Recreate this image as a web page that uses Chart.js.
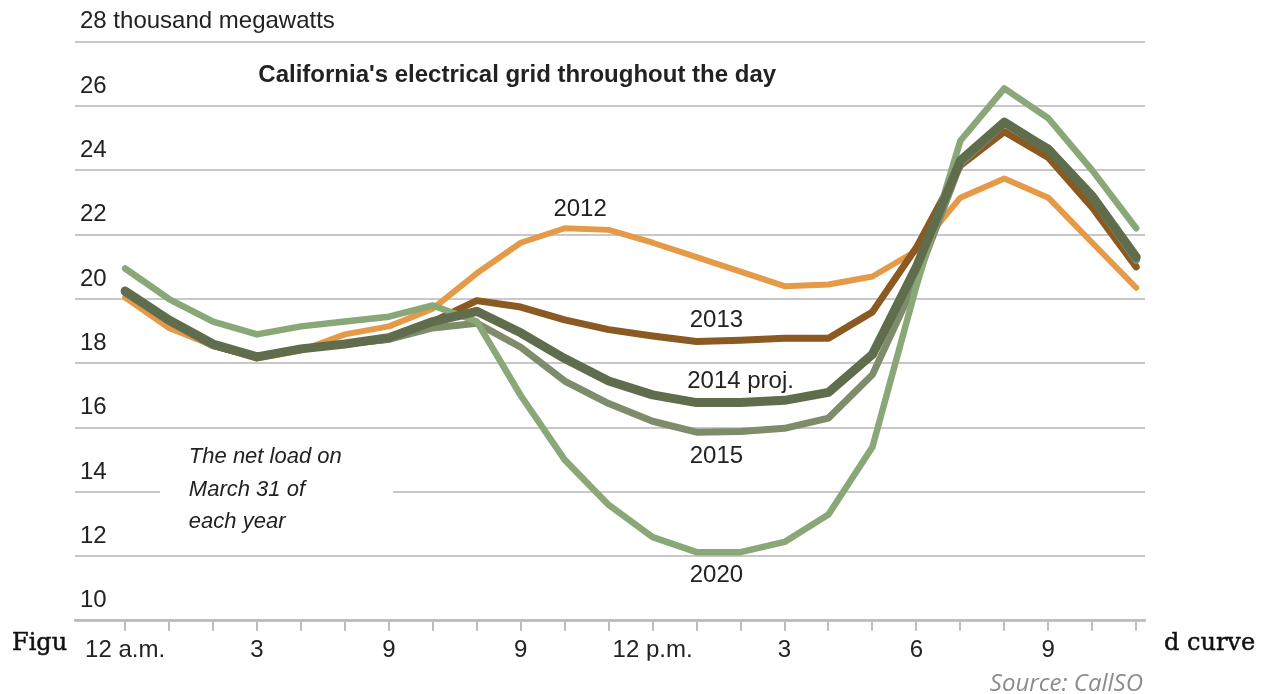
<!DOCTYPE html>
<html>
<head>
<meta charset="utf-8">
<script src="https://cdn.jsdelivr.net/npm/chart.js@4"></script>
<style>
  html, body { margin: 0; padding: 0; background: #fff; }
  #wrap { position: relative; width: 1271px; height: 694px; overflow: hidden; }
  #chart { position: absolute; left: 0; top: 0; }
  .page { position: absolute; white-space: nowrap; }
  .serif { font-family: "DejaVu Serif", serif; font-size: 24px; color: #111; -webkit-text-stroke: 0.5px #111; }
  #source { font-family: "Open Sans", sans-serif; font-style: italic; font-size: 24px; color: #8c8c8c; }
</style>
</head>
<body>
<div id="wrap">
  <canvas id="chart" width="1271" height="694"></canvas>
  <div class="page serif" style="left:12px; top:628px;">Figu</div>
  <div class="page serif" style="left:1164px; top:628px;">d curve</div>
  <div class="page" id="source" style="right:128px; top:665px;">Source: CallSO</div>
</div>
<script>
// hours of the day, 0 = midnight
const hours = [0, 1, 2, 3, 4, 5, 6, 7, 8, 9, 10, 11, 12, 13, 14, 15, 16, 17, 18, 19, 20, 21, 22, 23];
// tick labels as printed under the axis
const hourLabels = {0: '12 a.m.', 3: '3', 6: '9', 9: '9', 12: '12 p.m.', 15: '3', 18: '6', 21: '9'};

// net load, thousand megawatts
const load2012 = [20.05, 19.1, 18.55, 18.15, 18.4, 18.9, 19.15, 19.7, 20.8, 21.75, 22.2, 22.15, 21.75, 21.3, 20.85, 20.4, 20.45, 20.7, 21.5, 23.15, 23.75, 23.15, 21.75, 20.35];
const load2013 = [20.2, 19.3, 18.55, 18.2, 18.45, 18.6, 18.75, 19.3, 19.95, 19.75, 19.35, 19.05, 18.85, 18.68, 18.72, 18.78, 18.78, 19.6, 21.6, 24.15, 25.2, 24.4, 22.85, 21.0];
const load2014 = [20.25, 19.35, 18.6, 18.2, 18.45, 18.6, 18.8, 19.3, 19.62, 18.95, 18.15, 17.45, 17.02, 16.78, 16.78, 16.85, 17.1, 18.28, 21.0, 24.3, 25.5, 24.65, 23.2, 21.3];
const load2015 = [20.2, 19.3, 18.55, 18.2, 18.45, 18.6, 18.75, 19.1, 19.25, 18.5, 17.45, 16.75, 16.2, 15.86, 15.88, 15.98, 16.3, 17.65, 20.6, 24.2, 25.45, 24.7, 23.15, 21.2];
const load2020 = [20.95, 20.0, 19.3, 18.9, 19.15, 19.3, 19.45, 19.8, 19.3, 17.0, 15.0, 13.6, 12.6, 12.13, 12.13, 12.45, 13.3, 15.4, 20.4, 24.92, 26.55, 25.62, 24.0, 22.2];

const seriesNames = ['2012', '2013', '2014 proj.', '2015', '2020'];
const seriesColors = ['#e59a48', '#8b5a22', '#606d4d', '#7f8c6c', '#89a777'];

// where each series name sits: [hour, value]
const seriesLabelAt = [[10.35, 22.8], [13.45, 19.35], [14.0, 17.45], [13.45, 15.1], [13.45, 11.4]];

const noteLines = ['The net load on', 'March 31 of', 'each year'];
const chartTitle = "California's electrical grid throughout the day";

const FONT = '"Liberation Sans", Arial, sans-serif';
const GRID = '#c8c8c8';

function pts(arr) {
    return arr.map((v, i) => ({x: hours[i], y: v}));
}

// title, series names, and the note with its gap in the 14 gridline
const textPlugin = {
    id: 'texts',
    beforeDatasetsDraw(chart) {
        const {ctx, scales: {x, y}} = chart;
        // cut the 14 gridline behind the note
        ctx.save();
        ctx.fillStyle = '#fff';
        ctx.fillRect(160, y.getPixelForValue(14) - 3, 233, 6);
        ctx.restore();
    },
    afterDraw(chart) {
        const {ctx, scales: {x, y}} = chart;
        ctx.save();
        ctx.fillStyle = '#222';
        ctx.textBaseline = 'middle';

        ctx.font = 'bold 24px ' + FONT;
        ctx.textAlign = 'left';
        ctx.fillText(chartTitle, x.getPixelForValue(3.03), y.getPixelForValue(26.95));

        ctx.font = '24px ' + FONT;
        ctx.textAlign = 'center';
        seriesNames.forEach((name, i) => {
            const [h, v] = seriesLabelAt[i];
            ctx.fillText(name, x.getPixelForValue(h), y.getPixelForValue(v));
        });

        ctx.font = 'italic 22px ' + FONT;
        ctx.textAlign = 'left';
        noteLines.forEach((line, i) => {
            ctx.fillText(line, x.getPixelForValue(1.45), y.getPixelForValue(15.1 - i * 1.02));
        });
        ctx.restore();
    }
};

let ctx = document.getElementById('chart').getContext('2d');

const datasets = [
    {label: seriesNames[0], data: pts(load2012), borderColor: seriesColors[0], borderWidth: 6, order: 5},
    {label: seriesNames[1], data: pts(load2013), borderColor: seriesColors[1], borderWidth: 7, order: 4},
    {label: seriesNames[3], data: pts(load2015), borderColor: seriesColors[3], borderWidth: 7, order: 3},
    {label: seriesNames[4], data: pts(load2020), borderColor: seriesColors[4], borderWidth: 6.5, order: 2},
    {label: seriesNames[2], data: pts(load2014), borderColor: seriesColors[2], borderWidth: 9, order: 1}
];

window.grid = new Chart(ctx, {
    type: 'line',
    data: {datasets: datasets},
    options: {
        responsive: false,
        animation: false,
        layout: {padding: {left: 75, right: 126, top: 41.7, bottom: 33.3}},
        elements: {
            line: {tension: 0, borderCapStyle: 'round', borderJoinStyle: 'round', fill: false},
            point: {radius: 0, hoverRadius: 0}
        },
        plugins: {legend: {display: false}, tooltip: {enabled: false}},
        scales: {
            x: {
                type: 'linear',
                min: -1.14,
                max: 23.2,
                afterBuildTicks: (scale) => { scale.ticks = hours.map(h => ({value: h})); },
                afterFit: (scale) => { scale.height = 40; },
                border: {display: true, color: '#bdbdbd', width: 2.5},
                grid: {drawOnChartArea: false, drawTicks: true, tickLength: 10, color: '#bdbdbd', lineWidth: 2},
                ticks: {
                    autoSkip: false,
                    maxRotation: 0,
                    padding: 5,
                    color: '#222',
                    font: {family: FONT, size: 24},
                    callback: (v) => hourLabels[v] || ''
                }
            },
            y: {
                min: 10,
                max: 28,
                afterFit: (scale) => { scale.width = 0; },
                border: {display: false},
                grid: {drawTicks: false, color: GRID, lineWidth: 2},
                ticks: {
                    stepSize: 2,
                    mirror: true,
                    padding: 5,
                    labelOffset: -20,
                    color: '#222',
                    font: {family: FONT, size: 24},
                    callback: (v) => v === 28 ? '28 thousand megawatts' : String(v)
                }
            }
        }
    },
    plugins: [textPlugin]
});
</script>
</body>
</html>
